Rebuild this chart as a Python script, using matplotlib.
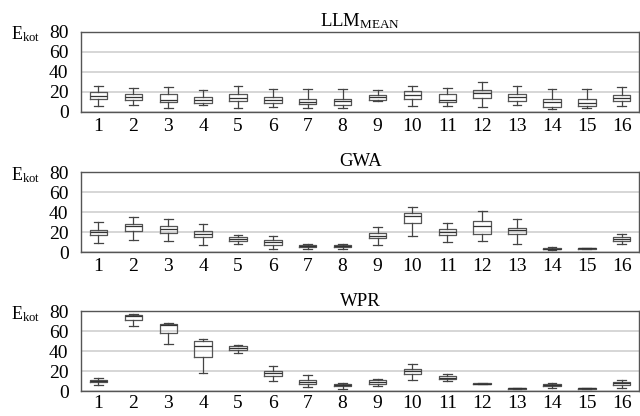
import matplotlib
matplotlib.use('Agg')
import matplotlib.pyplot as plt

plt.rcParams['font.family'] = ['Liberation Serif', 'DejaVu Serif']
plt.rcParams['mathtext.fontset'] = 'custom'
plt.rcParams['mathtext.rm'] = 'Liberation Serif'
plt.rcParams['mathtext.it'] = 'Liberation Serif:italic'

labels = [str(i) for i in range(1, 17)]

# LLM_MEAN: whisker low, q1, median, q3, whisker high
llm_lo = [5.5, 6.4, 4, 6.4, 4, 5, 4, 3.7, 11, 5.4, 5.4, 4.7, 6.4, 2.7, 3.4, 5.7]
llm_q1 = [12.5, 11.4, 9.7, 9, 10.7, 8.4, 7.4, 6.7, 12, 13, 10, 13.7, 11, 5, 5.4, 10.7]
llm_med = [16, 14.7, 11.7, 11.4, 14, 11.7, 10, 10.4, 14.4, 16.7, 12, 18.7, 14.4, 9.4, 9, 14]
llm_q3 = [19.5, 18, 17.4, 14.4, 18, 14.4, 13, 13, 16.4, 20.7, 18, 21.4, 17.7, 12.7, 12.4, 16.4]
llm_hi = [26, 24, 25, 22, 25.4, 22.7, 22.7, 23, 21.4, 25.7, 24, 29.4, 26, 23, 23, 24.7]

# GWA
gwa_lo = [8.7, 11.7, 10.7, 6.7, 8, 3, 3, 3.3, 6.7, 15.7, 10, 10.7, 8.3, 2, 3, 7.7]
gwa_q1 = [16.7, 20.7, 19.3, 14.7, 11, 7.3, 4.7, 4.7, 13.7, 29.3, 17.3, 17.7, 17.7, 2.7, 3, 11]
gwa_med = [19.7, 25.7, 23.3, 18, 13.3, 10, 5.7, 6, 16.3, 35.7, 20.3, 25.7, 22, 3.3, 3.7, 13.3]
gwa_q3 = [22.3, 28, 25.7, 21, 15, 11.7, 6.7, 7, 19, 38.7, 23, 31.3, 24.3, 4, 4, 15]
gwa_hi = [30, 35.3, 32.7, 28.3, 17.3, 16.3, 8.3, 8.3, 25.3, 45.3, 29, 40.7, 32.7, 5, 4.3, 17.7]

# WPR
wpr_lo = [6.7, 65.3, 47.7, 18.7, 38.7, 10, 4.7, 2.7, 5.3, 11.7, 10.3, 7, 2.3, 3, 2, 3.7]
wpr_q1 = [9.3, 71.7, 58.7, 34, 41, 15.7, 7.7, 5, 7.7, 17.7, 12.3, 7.2, 2.5, 5.3, 2.3, 6.3]
wpr_med = [10.7, 75, 66.3, 45, 43, 18.3, 9.7, 6.7, 9.7, 20.7, 13.7, 7.6, 2.9, 6.7, 3, 8.3]
wpr_q3 = [11.7, 76, 67, 50, 45, 20.3, 11.7, 7.7, 11.3, 22.7, 15, 7.9, 3.2, 7.7, 3.3, 9.7]
wpr_hi = [13.7, 77.3, 68.3, 52.7, 46.3, 25.7, 16.7, 8.7, 12.3, 27, 17.3, 8, 3.3, 8.3, 3.7, 11.3]

panels = [
    ('LLM$_{\\mathrm{MEAN}}$', llm_lo, llm_q1, llm_med, llm_q3, llm_hi),
    ('GWA', gwa_lo, gwa_q1, gwa_med, gwa_q3, gwa_hi),
    ('WPR', wpr_lo, wpr_q1, wpr_med, wpr_q3, wpr_hi),
]

fig = plt.figure(figsize=(6.4, 4.16), dpi=100)
bottoms = [0.7315, 0.3942, 0.0595]
xpads = [4.5, 4.5, 2.5]

for (title, lo, q1, med, q3, hi), b, xp in zip(panels, bottoms, xpads):
    ax = fig.add_axes([0.1266, b, 0.872, 0.1923])
    stats = []
    for i in range(16):
        stats.append({'whislo': lo[i], 'q1': q1[i], 'med': med[i],
                      'q3': q3[i], 'whishi': hi[i], 'fliers': [], 'label': labels[i]})
    ax.bxp(stats, positions=range(1, 17), widths=0.5, capwidths=0.25,
           showfliers=False,
           boxprops=dict(color='#555555', linewidth=0.9),
           whiskerprops=dict(color='#444444', linewidth=0.9),
           capprops=dict(color='#444444', linewidth=0.9),
           medianprops=dict(color='#333333', linewidth=0.9))
    ax.set_xlim(0.5, 16.5)
    ax.set_ylim(0, 80)
    ax.set_yticks([0, 20, 40, 60, 80])
    ax.yaxis.grid(True, color='#cccccc', linewidth=1.1)
    ax.set_axisbelow(True)
    ax.tick_params(axis='both', length=0, labelsize=14)
    ax.tick_params(axis='y', pad=9)
    ax.tick_params(axis='x', pad=xp)
    for s in ['top', 'left', 'bottom', 'right']:
        ax.spines[s].set_color('#555555')
        ax.spines[s].set_linewidth(1.0)
    ax.set_title(title, fontsize=13.5, pad=4)
    ax.text(-0.125, 0.9, 'E$_{\\mathrm{kot}}$', transform=ax.transAxes,
            fontsize=13, va='baseline', ha='left')

fig.savefig('out.png', dpi=100)
